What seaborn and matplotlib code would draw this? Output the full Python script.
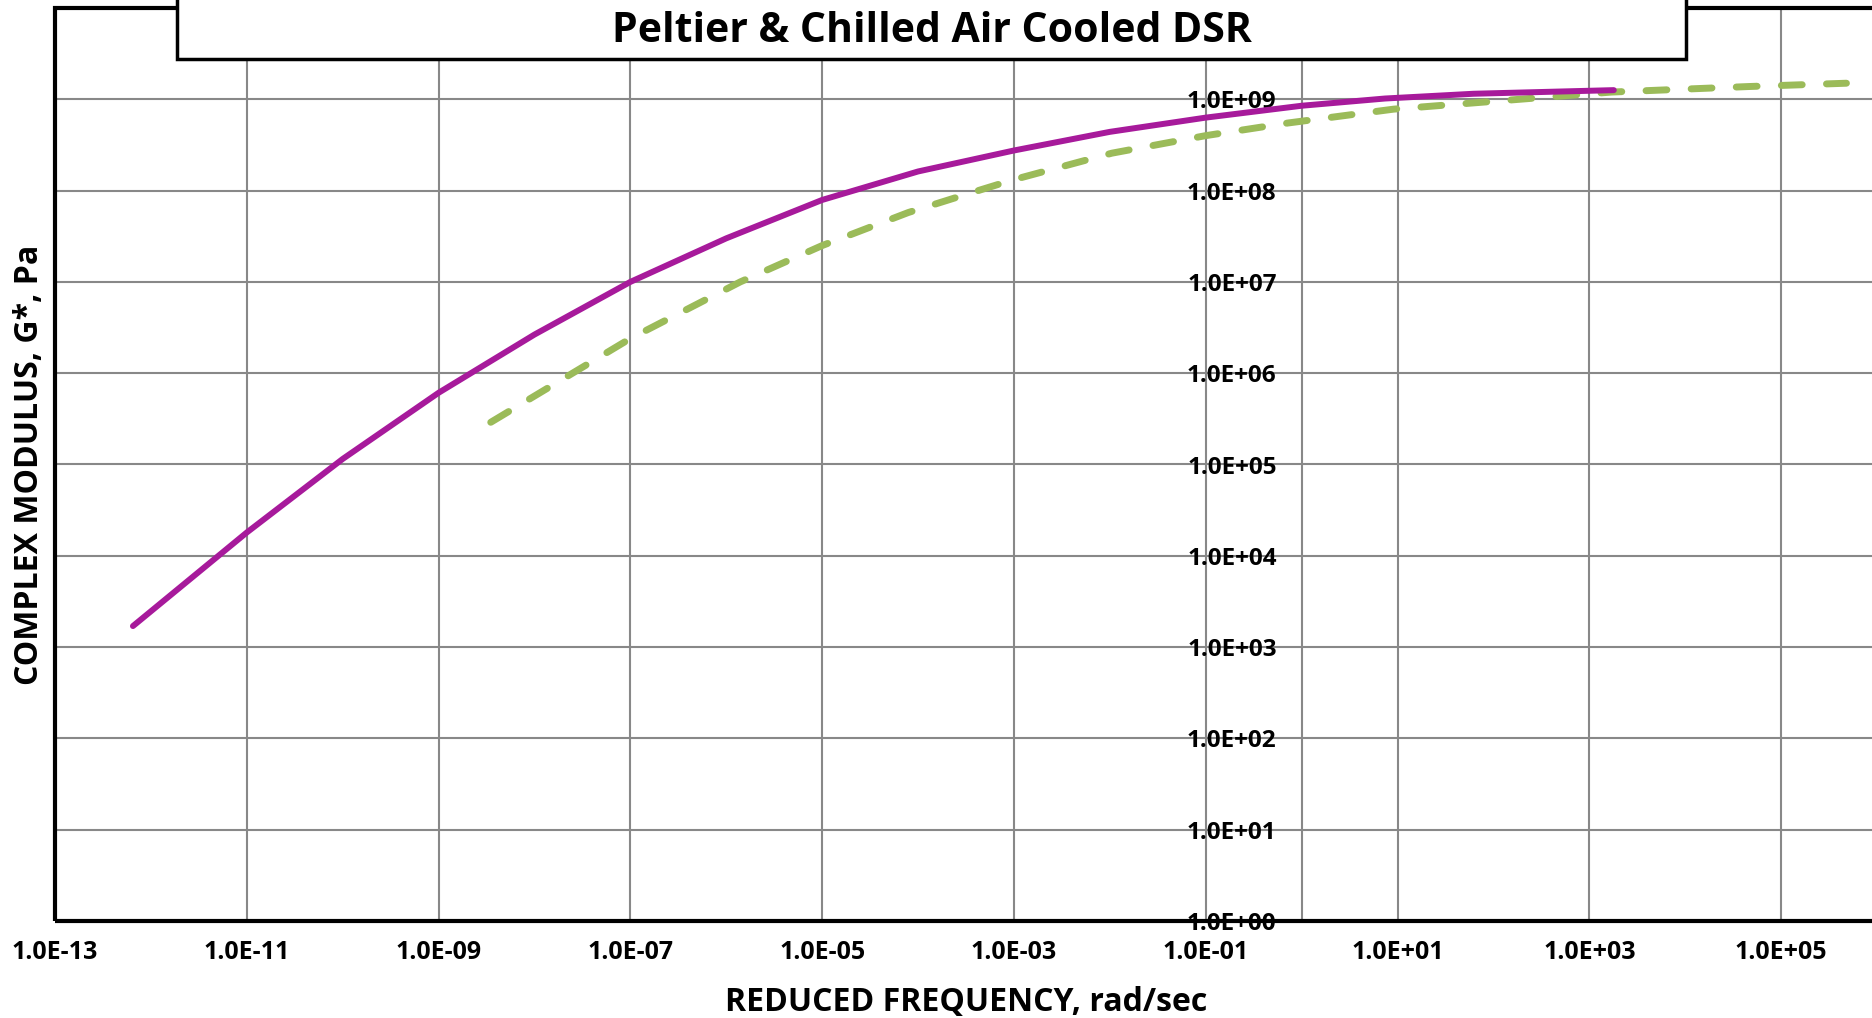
import matplotlib
matplotlib.use("Agg")
import matplotlib.pyplot as plt
import seaborn as sns
import pandas as pd
from matplotlib.patches import Rectangle
from matplotlib.ticker import FixedLocator, FuncFormatter, NullLocator

# ---- data ----
peltier_freq = [6.5e-13, 1e-11, 1e-10, 1e-9, 1e-8, 1e-7, 1e-6, 1e-5, 1e-4, 1e-3,
                1e-2, 1e-1, 1.0, 7.4, 62.0, 1.8e3]
peltier_gstar = [1.7e3, 1.8e4, 1.15e5, 6.1e5, 2.65e6, 1.0e7, 3.0e7, 7.9e7, 1.62e8, 2.75e8,
                 4.4e8, 6.3e8, 8.5e8, 1.02e9, 1.15e9, 1.26e9]

air_freq = [3.5e-9, 1e-7, 1.4e-6, 1e-5, 7.9e-5, 4.5e-4, 1e-3, 1.05e-2, 1e-1, 0.72,
            9.1, 186.0, 1.7e3, 4.6e4, 4.8e5]
air_gstar = [2.9e5, 2.4e6, 1.0e7, 2.5e7, 5.75e7, 1.02e8, 1.32e8, 2.57e8, 4.0e8, 5.5e8,
             7.8e8, 1.0e9, 1.2e9, 1.38e9, 1.5e9]

x_ticks = [1e-13, 1e-11, 1e-9, 1e-7, 1e-5, 1e-3, 1e-1, 1e1, 1e3, 1e5]
y_ticks = [1e0, 1e1, 1e2, 1e3, 1e4, 1e5, 1e6, 1e7, 1e8, 1e9]

title = "Peltier & Chilled Air Cooled DSR"
x_title = "REDUCED FREQUENCY, rad/sec"
y_title = "COMPLEX MODULUS, G*, Pa"

# ---- style ----
sns.set_style("white")
plt.rcParams["font.family"] = ["Open Sans", "DejaVu Sans"]
plt.rcParams["font.weight"] = "bold"
plt.rcParams["text.color"] = "black"
plt.rcParams["axes.labelcolor"] = "black"
plt.rcParams["xtick.labelcolor"] = "black"
plt.rcParams["ytick.labelcolor"] = "black"

W, H = 1872, 1018
fig = plt.figure(figsize=(W / 100, H / 100), dpi=100)
left_px, right_px, top_px, bottom_px = 55, 1877, 8, 921
ax = fig.add_axes([left_px / W, 1 - bottom_px / H,
                   (right_px - left_px) / W, (bottom_px - top_px) / H])

df_p = pd.DataFrame({"freq": peltier_freq, "gstar": peltier_gstar})
df_a = pd.DataFrame({"freq": air_freq, "gstar": air_gstar})

sns.lineplot(data=df_a, x="freq", y="gstar", ax=ax, color="#9BBB59", lw=5.0,
             sort=False, estimator=None, linestyle=(0, (3.0, 3.5)),
             dash_capstyle="round", solid_joinstyle="round", zorder=3)
sns.lineplot(data=df_p, x="freq", y="gstar", ax=ax, color="#A71A9B", lw=4.3,
             sort=False, estimator=None, solid_capstyle="round",
             solid_joinstyle="round", zorder=4)

ax.set_xscale("log")
ax.set_yscale("log")
ax.set_xlim(1e-13, 1e6)
ax.set_ylim(1e0, 1e10)

ax.xaxis.set_major_locator(FixedLocator(x_ticks))
ax.yaxis.set_major_locator(FixedLocator(y_ticks))
ax.xaxis.set_minor_locator(NullLocator())
ax.yaxis.set_minor_locator(NullLocator())
fmt = FuncFormatter(lambda v, p: "%.1E" % v)
ax.xaxis.set_major_formatter(fmt)
ax.yaxis.set_major_formatter(fmt)

ax.grid(True, which="major", color="#888888", lw=1.5, zorder=0)
ax.set_axisbelow(True)

for s in ["top", "right", "bottom"]:
    ax.spines[s].set_visible(False)
ax.spines["left"].set_position(("data", 1.0))
ax.spines["left"].set_color("#888888")
ax.spines["left"].set_linewidth(1.5)

ax.tick_params(axis="x", which="major", direction="out", length=6, width=1.2,
               color="#888888", labelcolor="black", pad=8, labelsize=18)
ax.tick_params(axis="y", which="major", length=0, pad=18, labelsize=17.5,
               labelcolor="black")
for lab in ax.get_xticklabels() + ax.get_yticklabels():
    lab.set_fontweight("bold")

# plot-area border
ax.add_patch(Rectangle((0, 0), 1, 1, transform=ax.transAxes, fill=False,
                       edgecolor="black", lw=3, zorder=5, clip_on=False))

ax.set_xlabel(x_title, fontsize=23, fontweight="bold", va="center", color="black")
ax.set_ylabel(y_title, fontsize=23, fontweight="bold", va="center", color="black")
ax.xaxis.set_label_coords((966 - left_px) / (right_px - left_px),
                          (bottom_px - 1003) / (bottom_px - top_px))
ax.yaxis.set_label_coords((30 - left_px) / (right_px - left_px),
                          (bottom_px - 465) / (bottom_px - top_px))

# title box
box_l, box_r, box_b = 177, 1686, 59
fig.add_artist(Rectangle((box_l / W, 1 - box_b / H), (box_r - box_l) / W, box_b / H + 0.05,
                         transform=fig.transFigure, facecolor="white",
                         edgecolor="black", lw=2.5, zorder=6, clip_on=False))
fig.text((box_l + box_r) / 2 / W, 1 - 31 / H, title, ha="center", va="center",
         fontsize=29.5, fontweight="bold", color="black", zorder=7)

fig.savefig("out.png", dpi=100)
